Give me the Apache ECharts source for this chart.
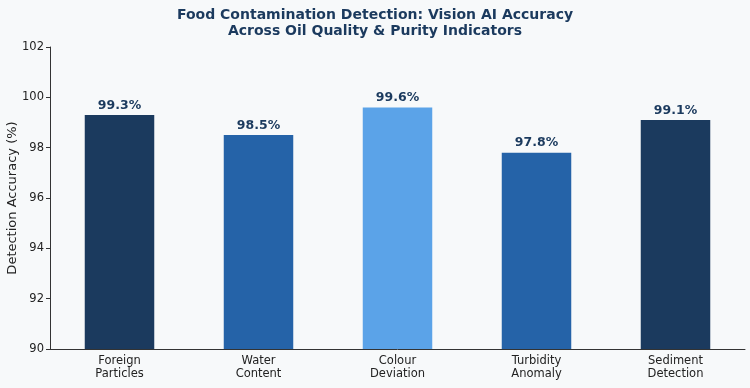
<!DOCTYPE html>
<html><head><meta charset="utf-8">
<script src="https://cdn.jsdelivr.net/npm/echarts@6/dist/echarts.min.js"></script>
<style>html,body{margin:0;padding:0;background:#f7f9fa}#c{width:750px;height:388px}</style>
</head><body><div id="c"></div>
<script>
const categories = ['Foreign\nParticles', 'Water\nContent', 'Colour\nDeviation', 'Turbidity\nAnomaly', 'Sediment\nDetection'];
const accuracy = [99.3, 98.5, 99.6, 97.8, 99.1];
const barColors = ['#1b3a5e', '#2563a8', '#5ba3e8', '#2563a8', '#1b3a5e'];
const yTicks = { min: 90, max: 102, interval: 2 };

const chart = echarts.init(document.getElementById('c'), null, { renderer: 'canvas' });
const font = 'DejaVu Sans';
chart.setOption({
  backgroundColor: '#f7f9fa',
  animation: false,
  title: {
    text: 'Food Contamination Detection: Vision AI Accuracy\nAcross Oil Quality & Purity Indicators',
    left: 'center', top: 2,
    textStyle: { fontFamily: font, fontSize: 14, fontWeight: 'bold', color: '#1b3a5e', lineHeight: 16 }
  },
  grid: { left: 50, right: 5, top: 47, bottom: 39, outerBoundsMode: 'none', containLabel: false },
  xAxis: {
    type: 'category', data: categories,
    axisLine: { lineStyle: { color: '#333', width: 1 } },
    axisTick: { alignWithLabel: true, length: 4, lineStyle: { color: '#333' } },
    axisLabel: { fontFamily: font, fontSize: 11.5, color: '#222', lineHeight: 13, margin: 6 }
  },
  yAxis: {
    type: 'value', min: yTicks.min, max: yTicks.max, interval: yTicks.interval,
    name: 'Detection Accuracy (%)', nameLocation: 'middle', nameGap: 31, nameMoveOverlap: false,
    nameTextStyle: { fontFamily: font, fontSize: 13, color: '#222' },
    axisLine: { show: true, lineStyle: { color: '#333', width: 1 } },
    axisTick: { show: true, length: 4, lineStyle: { color: '#333' } },
    axisLabel: { fontFamily: font, fontSize: 11.5, color: '#222', margin: 6 },
    splitLine: { show: false }
  },
  series: [{
    type: 'bar', barWidth: '50%',
    data: accuracy.map((v, i) => ({ value: v, itemStyle: { color: barColors[i] } })),
    label: {
      show: true, position: 'top', distance: 3,
      formatter: p => p.value.toFixed(1) + '%',
      fontFamily: font, fontSize: 12.5, fontWeight: 'bold', color: '#1b3a5e'
    }
  }]
});
</script></body></html>
